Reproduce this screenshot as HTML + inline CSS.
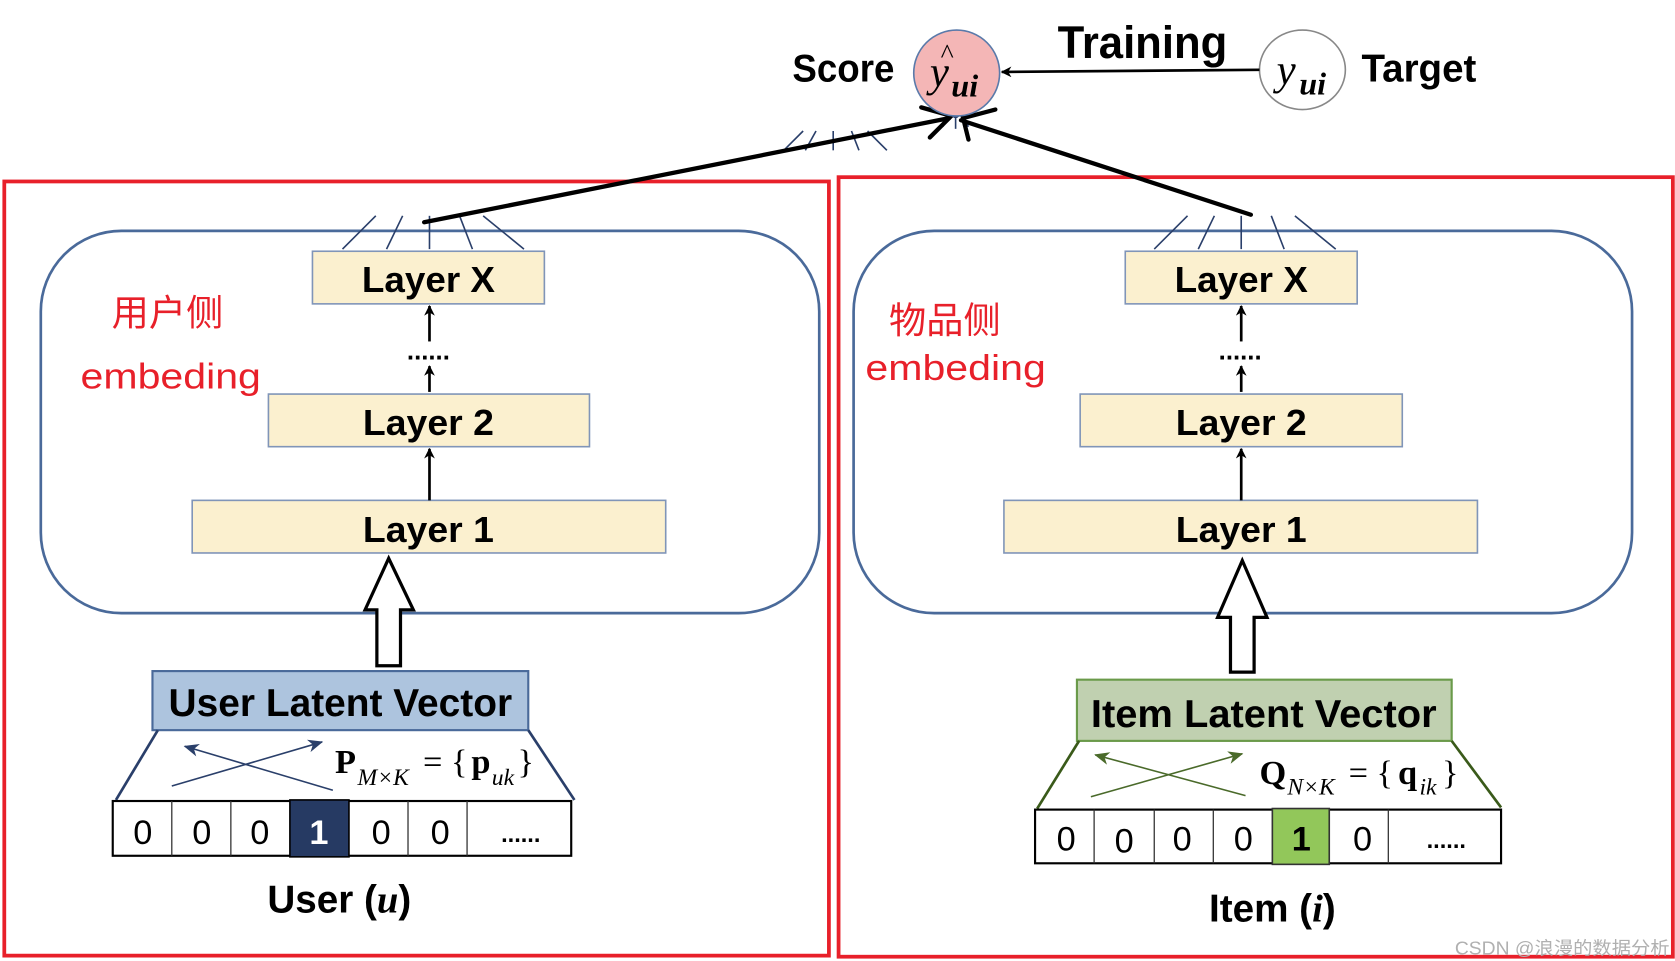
<!DOCTYPE html>
<html><head><meta charset="utf-8"><style>html,body{margin:0;padding:0;background:#fff}svg{display:block}</style></head>
<body>
<svg width="1675" height="961" viewBox="0 0 1560 895" preserveAspectRatio="none" xmlns="http://www.w3.org/2000/svg" font-family="Liberation Sans, sans-serif">
<defs>
<marker id="ah" markerWidth="10" markerHeight="10" refX="9" refY="5" orient="auto" markerUnits="userSpaceOnUse"><path d="M0,0 L10,5 L0,10 L3,5 z" fill="#000"/></marker>
<marker id="ah2" markerWidth="14" markerHeight="12" refX="13" refY="6" orient="auto" markerUnits="userSpaceOnUse"><path d="M0,0 L14,6 L0,12 L4,6 z" fill="#2a3f6a"/></marker>
<marker id="ah3" markerWidth="14" markerHeight="12" refX="13" refY="6" orient="auto" markerUnits="userSpaceOnUse"><path d="M0,0 L14,6 L0,12 L4,6 z" fill="#4a6a2a"/></marker>
</defs>
<!-- red boxes -->
<rect x="4" y="169" width="768" height="721" fill="none" stroke="#e8202a" stroke-width="3.5"/>
<rect x="781" y="165" width="777" height="726" fill="none" stroke="#e8202a" stroke-width="3.5"/>
<!-- rounded containers -->
<rect x="38" y="215" width="725" height="356" rx="75" fill="none" stroke="#4a6a9a" stroke-width="2.5"/>
<rect x="795" y="215" width="725" height="356" rx="75" fill="none" stroke="#4a6a9a" stroke-width="2.5"/>
<g font-weight="bold" font-size="34" text-anchor="middle" fill="#000">
<!-- left layers -->
<rect x="291" y="234" width="216" height="49" fill="#fbf0cf" stroke="#8095b8" stroke-width="1.5"/>
<text x="399" y="272" textLength="124" lengthAdjust="spacingAndGlyphs">Layer X</text>
<rect x="250" y="367" width="299" height="49" fill="#fbf0cf" stroke="#8095b8" stroke-width="1.5"/>
<text x="399" y="405" textLength="122" lengthAdjust="spacingAndGlyphs">Layer 2</text>
<rect x="179" y="466" width="441" height="49" fill="#fbf0cf" stroke="#8095b8" stroke-width="1.5"/>
<text x="399" y="505" textLength="122" lengthAdjust="spacingAndGlyphs">Layer 1</text>
<!-- right layers -->
<rect x="1048" y="234" width="216" height="49" fill="#fbf0cf" stroke="#8095b8" stroke-width="1.5"/>
<text x="1156" y="272" textLength="124" lengthAdjust="spacingAndGlyphs">Layer X</text>
<rect x="1006" y="367" width="300" height="49" fill="#fbf0cf" stroke="#8095b8" stroke-width="1.5"/>
<text x="1156" y="405" textLength="122" lengthAdjust="spacingAndGlyphs">Layer 2</text>
<rect x="935" y="466" width="441" height="49" fill="#fbf0cf" stroke="#8095b8" stroke-width="1.5"/>
<text x="1156" y="505" textLength="122" lengthAdjust="spacingAndGlyphs">Layer 1</text>
</g>
<!-- small arrows -->
<g stroke="#000" stroke-width="2.5">
<line x1="400" y1="318" x2="400" y2="285" marker-end="url(#ah)"/>
<line x1="400" y1="365" x2="400" y2="341" marker-end="url(#ah)"/>
<line x1="400" y1="466" x2="400" y2="418" marker-end="url(#ah)"/>
<line x1="1156" y1="318" x2="1156" y2="285" marker-end="url(#ah)"/>
<line x1="1156" y1="365" x2="1156" y2="341" marker-end="url(#ah)"/>
<line x1="1156" y1="466" x2="1156" y2="418" marker-end="url(#ah)"/>
</g>
<g font-size="24" font-weight="bold" text-anchor="middle"><text x="399" y="335">......</text><text x="1155" y="335">......</text></g>
<!-- hollow arrows -->
<path d="M351,620 L373,620 L373,568 L385,568 L362,520 L340,568 L351,568 Z" fill="#fff" stroke="#000" stroke-width="3"/>
<path d="M1146,626 L1168,626 L1168,575 L1180,575 L1157,522 L1134,575 L1146,575 Z" fill="#fff" stroke="#000" stroke-width="3"/>
<!-- fans -->
<g stroke="#2a3f6a" stroke-width="1.5">
<line x1="319" y1="232" x2="350" y2="201"/><line x1="360" y1="232" x2="375" y2="201"/><line x1="400" y1="232" x2="400" y2="201"/><line x1="440" y1="232" x2="428" y2="201"/><line x1="488" y1="232" x2="450" y2="201"/>
<line x1="1075" y1="232" x2="1106" y2="201"/><line x1="1116" y1="232" x2="1131" y2="201"/><line x1="1156" y1="232" x2="1156" y2="201"/><line x1="1196" y1="232" x2="1184" y2="201"/><line x1="1244" y1="232" x2="1206" y2="201"/>
<line x1="730" y1="140" x2="748" y2="122"/><line x1="750" y1="140" x2="760" y2="122"/><line x1="776" y1="140" x2="776" y2="122"/><line x1="800" y1="140" x2="793" y2="122"/><line x1="826" y1="140" x2="808" y2="122"/>
<line x1="885" y1="107" x2="878" y2="118"/><line x1="890" y1="107" x2="890" y2="120"/><line x1="895" y1="107" x2="902" y2="118"/>
</g>
<!-- thick connectors -->
<g stroke="#000" stroke-width="4" fill="none" stroke-linecap="round">
<line x1="395" y1="207" x2="884" y2="110"/>
<line x1="1165" y1="200" x2="895" y2="112"/>
<path d="M858,100 L886,108 L866,128"/>
<path d="M927,102 L897,110 L902,130"/>
</g>
<circle cx="890" cy="106" r="4" fill="#2a3f6a"/>
<!-- top nodes -->
<ellipse cx="891" cy="68" rx="40" ry="40" fill="#f4b6b6" stroke="#5a7aaa" stroke-width="1.5"/>
<ellipse cx="1213" cy="65" rx="40" ry="37" fill="#fff" stroke="#888" stroke-width="1.5"/>
<line x1="1173" y1="65" x2="933" y2="67" stroke="#000" stroke-width="2.5" marker-end="url(#ah)"/>
<g font-family="Liberation Serif, serif" font-style="italic" font-size="40">
<text x="866" y="80">y</text><text x="886" y="90" font-size="30" font-weight="bold">ui</text>
<text x="876" y="58" font-size="26" font-style="normal">^</text>
<text x="1189" y="78">y</text><text x="1210" y="88" font-size="30" font-weight="bold">ui</text>
</g>
<g font-weight="bold" fill="#000">
<text x="738" y="76" font-size="36" textLength="95" lengthAdjust="spacingAndGlyphs">Score</text>
<text x="985" y="54" font-size="42" textLength="158" lengthAdjust="spacingAndGlyphs">Training</text>
<text x="1268" y="76" font-size="36" textLength="107" lengthAdjust="spacingAndGlyphs">Target</text>
</g>
<!-- Chinese labels -->
<g fill="#e8202a" font-family="Liberation Sans, Noto Sans CJK SC, sans-serif" font-size="34">
<text x="104" y="303" textLength="104" lengthAdjust="spacingAndGlyphs">用户侧</text>
<text x="75" y="362" textLength="168" lengthAdjust="spacingAndGlyphs">embeding</text>
<text x="828" y="310" textLength="104" lengthAdjust="spacingAndGlyphs">物品侧</text>
<text x="806" y="354" textLength="168" lengthAdjust="spacingAndGlyphs">embeding</text>
</g>
<!-- latent vectors -->
<rect x="142" y="625" width="350" height="55" fill="#adc4de" stroke="#4a6a9a" stroke-width="2"/>
<text x="317" y="667" font-size="36" font-weight="bold" text-anchor="middle" textLength="320" lengthAdjust="spacingAndGlyphs">User Latent Vector</text>
<rect x="1003" y="633" width="349" height="57" fill="#c0d0b0" stroke="#6a9a4a" stroke-width="2"/>
<text x="1177" y="677" font-size="36" font-weight="bold" text-anchor="middle" textLength="322" lengthAdjust="spacingAndGlyphs">Item Latent Vector</text>
<g stroke="#2a3f6a" stroke-width="2.5"><line x1="147" y1="680" x2="108" y2="745"/><line x1="492" y1="680" x2="535" y2="745"/></g>
<g stroke="#3a5a1a" stroke-width="2.5"><line x1="1005" y1="690" x2="966" y2="753"/><line x1="1352" y1="690" x2="1398" y2="752"/></g>
<g stroke-width="1.5">
<line x1="160" y1="732" x2="300" y2="691" stroke="#2a3f6a" marker-end="url(#ah2)"/>
<line x1="310" y1="736" x2="172" y2="695" stroke="#2a3f6a" marker-end="url(#ah2)"/>
<line x1="1016" y1="742" x2="1157" y2="702" stroke="#4a6a2a" marker-end="url(#ah3)"/>
<line x1="1160" y1="741" x2="1020" y2="703" stroke="#4a6a2a" marker-end="url(#ah3)"/>
</g>
<g font-family="Liberation Serif, serif" font-size="32">
<text x="312" y="720" font-weight="bold">P</text><text x="333" y="731" font-style="italic" font-size="22">M×K</text>
<text x="394" y="720">= {</text><text x="439" y="720" font-weight="bold">p</text><text x="458" y="731" font-style="italic" font-size="22">uk</text><text x="482" y="720">}</text>
<text x="1173" y="730" font-weight="bold">Q</text><text x="1199" y="740" font-style="italic" font-size="22">N×K</text>
<text x="1256" y="730">= {</text><text x="1302" y="730" font-weight="bold">q</text><text x="1322" y="740" font-style="italic" font-size="22">ik</text><text x="1343" y="730">}</text>
</g>
<!-- cells -->
<rect x="105" y="746" width="427" height="51" fill="#fff" stroke="#000" stroke-width="2"/>
<rect x="270" y="745" width="55" height="53" fill="#263a63" stroke="#000" stroke-width="1.5"/>
<g stroke="#333" stroke-width="1.2"><line x1="160" y1="746" x2="160" y2="797"/><line x1="215" y1="746" x2="215" y2="797"/><line x1="380" y1="746" x2="380" y2="797"/><line x1="435" y1="746" x2="435" y2="797"/></g>
<g font-size="32" text-anchor="middle"><text x="133" y="786">0</text><text x="188" y="786">0</text><text x="242" y="786">0</text><text x="297" y="786" fill="#fff" font-weight="bold">1</text><text x="355" y="786">0</text><text x="410" y="786">0</text><text x="485" y="784" font-size="22" font-weight="bold">......</text></g>
<rect x="964" y="754" width="434" height="50" fill="#fff" stroke="#000" stroke-width="2"/>
<rect x="1185" y="753" width="53" height="52" fill="#92c75a" stroke="#333" stroke-width="1.5"/>
<g stroke="#333" stroke-width="1.2"><line x1="1019" y1="754" x2="1019" y2="804"/><line x1="1075" y1="754" x2="1075" y2="804"/><line x1="1130" y1="754" x2="1130" y2="804"/><line x1="1293" y1="754" x2="1293" y2="804"/></g>
<g font-size="32" text-anchor="middle"><text x="993" y="792">0</text><text x="1047" y="794">0</text><text x="1101" y="792">0</text><text x="1158" y="792">0</text><text x="1212" y="792" font-weight="bold">1</text><text x="1269" y="792">0</text><text x="1347" y="790" font-size="22" font-weight="bold">......</text></g>
<!-- bottom labels -->
<text x="316" y="850" font-size="36" font-weight="bold" text-anchor="middle">User (<tspan font-family="Liberation Serif, serif" font-style="italic">u</tspan>)</text>
<text x="1185" y="858" font-size="36" font-weight="bold" text-anchor="middle">Item (<tspan font-family="Liberation Serif, serif" font-style="italic">i</tspan>)</text>
<text x="1355" y="889" font-size="17" fill="#b0b0b0" font-family="Liberation Sans, Noto Sans CJK SC, sans-serif" textLength="200" lengthAdjust="spacingAndGlyphs">CSDN @浪漫的数据分析</text>
</svg>
</body></html>
